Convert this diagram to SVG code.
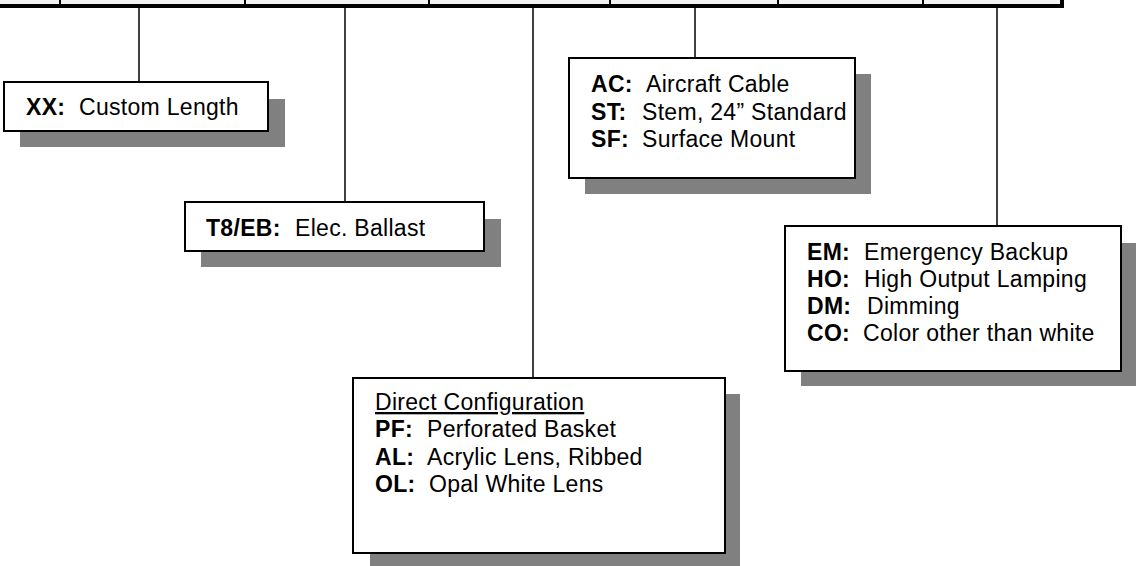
<svg xmlns="http://www.w3.org/2000/svg" width="1136" height="566" viewBox="0 0 1136 566">
<style>
.box{fill:#fff;stroke:#000;stroke-width:2}
.sh{fill:#808080}
.t{font-family:"Liberation Sans",Arial,sans-serif;font-size:23px;letter-spacing:0.3px;fill:#000}
.b{font-weight:bold}
.c{stroke:#000;stroke-width:1.5;fill:none}
</style>
<rect x="0" y="0" width="1060" height="4" fill="#f2f2f2"/>
<rect x="0" y="4" width="1064" height="4" fill="#000"/>
<rect x="1060" y="0" width="4" height="8" fill="#000"/>
<g stroke="#000" stroke-width="2">
<line x1="60" y1="0" x2="60" y2="5"/>
<line x1="245" y1="0" x2="245" y2="5"/>
<line x1="429" y1="0" x2="429" y2="5"/>
<line x1="610" y1="0" x2="610" y2="5"/>
<line x1="778" y1="0" x2="778" y2="5"/>
<line x1="923" y1="0" x2="923" y2="5"/>
</g>
<g id="connectors">
<line class="c" x1="139" y1="8" x2="139" y2="82"/>
<line class="c" x1="345" y1="8" x2="345" y2="202"/>
<line class="c" x1="533" y1="8" x2="533" y2="378"/>
<line class="c" x1="695" y1="8" x2="695" y2="58"/>
<line class="c" x1="997" y1="8" x2="997" y2="226"/>
</g>
<g id="node-xx">
<rect class="sh" x="20" y="99" width="265" height="48"/>
<rect class="box" x="4" y="82" width="264" height="49"/>
<text class="t b" x="26" y="115">XX:</text>
<text class="t" x="79" y="115">Custom Length</text>
</g>
<g id="node-t8">
<rect class="sh" x="201" y="219" width="300" height="48"/>
<rect class="box" x="185" y="202" width="299" height="49"/>
<text class="t b" x="206" y="236">T8/EB:</text>
<text class="t" x="295" y="236">Elec. Ballast</text>
</g>
<g id="node-ac">
<rect class="sh" x="585" y="74" width="286" height="120"/>
<rect class="box" x="569" y="58" width="286" height="120"/>
<text class="t b" x="591" y="92">AC:</text>
<text class="t" x="646" y="92">Aircraft Cable</text>
<text class="t b" x="591" y="120">ST:</text>
<text class="t" x="642" y="120">Stem, 24” Standard</text>
<text class="t b" x="591" y="147">SF:</text>
<text class="t" x="642" y="147">Surface Mount</text>
</g>
<g id="node-em">
<rect class="sh" x="801" y="243" width="335" height="143"/>
<rect class="box" x="785" y="226" width="336" height="145"/>
<text class="t b" x="807" y="260">EM:</text>
<text class="t" x="864" y="260">Emergency Backup</text>
<text class="t b" x="807" y="287">HO:</text>
<text class="t" x="864" y="287">High Output Lamping</text>
<text class="t b" x="807" y="314">DM:</text>
<text class="t" x="867" y="314">Dimming</text>
<text class="t b" x="807" y="341">CO:</text>
<text class="t" x="863" y="341">Color other than white</text>
</g>
<g id="node-direct">
<rect class="sh" x="370" y="394" width="370" height="172"/>
<rect class="box" x="353" y="378" width="372" height="175"/>
<text class="t" x="375" y="410" text-decoration="underline">Direct Configuration</text>
<text class="t b" x="375" y="437">PF:</text>
<text class="t" x="427" y="437">Perforated Basket</text>
<text class="t b" x="375" y="465">AL:</text>
<text class="t" x="427" y="465">Acrylic Lens, Ribbed</text>
<text class="t b" x="375" y="492">OL:</text>
<text class="t" x="429" y="492">Opal White Lens</text>
</g>
</svg>
